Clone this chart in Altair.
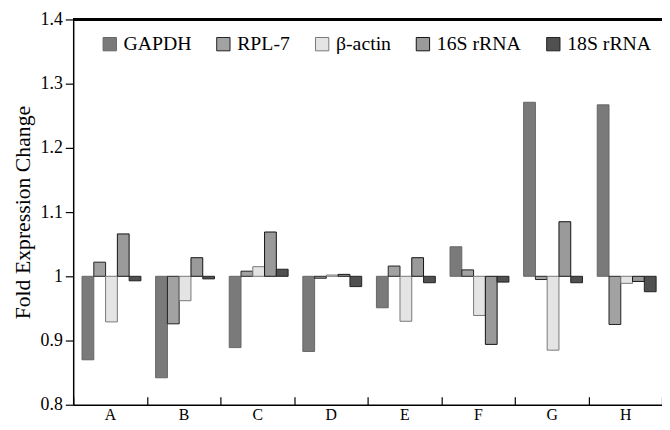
import altair as alt
import pandas as pd

categories = ["A", "B", "C", "D", "E", "F", "G", "H"]
series = ["GAPDH", "RPL-7", "β-actin", "16S rRNA", "18S rRNA"]
gapdh = [0.870, 0.842, 0.889, 0.883, 0.951, 1.046, 1.271, 1.267]
rpl7 = [1.022, 0.926, 1.008, 0.997, 1.016, 1.010, 0.995, 0.925]
bactin = [0.929, 0.962, 1.015, 1.002, 0.930, 0.939, 0.885, 0.989]
s16 = [1.066, 1.029, 1.069, 1.003, 1.029, 0.894, 1.085, 0.992]
s18 = [0.993, 0.996, 1.011, 0.984, 0.990, 0.991, 0.990, 0.976]
fills = ["#7a7a7a", "#a2a2a2", "#e4e4e4", "#9a9a9a", "#505050"]
strokes = ["#666666", "#222222", "#777777", "#111111", "#222222"]
y_ticks = [0.8, 0.9, 1.0, 1.1, 1.2, 1.3, 1.4]

rows = []
for name, vals in zip(series, [gapdh, rpl7, bactin, s16, s18]):
    for c, v in zip(categories, vals):
        rows.append({"cat": c, "series": name, "value": v})
df = pd.DataFrame(rows)

FONT = "Liberation Serif"

bars = alt.Chart(df).mark_bar(strokeWidth=1).encode(
    x=alt.X("cat:N", sort=categories, title=None,
            scale=alt.Scale(paddingInner=0, paddingOuter=0),
            axis=alt.Axis(tickBand="extent", labelAngle=0, labelFontSize=16,
                          labelFont=FONT, labelColor="black", domainColor="black",
                          tickColor="black", tickSize=alt.ExprRef("-8"),
                          labelPadding=10, domainWidth=1.5, tickWidth=1.2)),
    xOffset=alt.XOffset("series:N", sort=series,
                        scale=alt.Scale(paddingInner=0, paddingOuter=0.625, align=0.6)),
    y=alt.Y("value:Q", scale=alt.Scale(domain=[0.8, 1.4], nice=False),
            title="Fold Expression Change",
            axis=alt.Axis(values=y_ticks, grid=False,
                          labelExpr="datum.value == 1 ? '1' : format(datum.value, '.1f')",
                          labelFontSize=18, labelFont=FONT, labelColor="black",
                          titleFont=FONT, titleFontSize=22, titleFontWeight="normal",
                          titleColor="black", titlePadding=6, tickSize=8,
                          tickColor="black", domainColor="black", domainWidth=1.5,
                          labelPadding=3, tickWidth=1.2)),
    y2=alt.datum(1.0),
    fill=alt.Fill("series:N", sort=series,
                  scale=alt.Scale(domain=series, range=fills),
                  legend=alt.Legend(title=None, orient="none", direction="horizontal",
                                    legendX=27, legendY=15, symbolType="square",
                                    symbolSize=182, symbolStrokeColor="#222",
                                    symbolStrokeWidth=1, labelFont=FONT,
                                    labelFontSize=20, labelColor="black",
                                    columnPadding=22, labelOffset=4, padding=0)),
    stroke=alt.Stroke("series:N", sort=series,
                      scale=alt.Scale(domain=series, range=strokes), legend=None),
)

top_line = alt.Chart(df).mark_rule(color="black", strokeWidth=1.5).encode(
    x=alt.value(0), x2=alt.value(600), y=alt.value(0)
)

chart = alt.layer(bars, top_line).properties(
    width=596, height=390,
    autosize=alt.AutoSizeParams(type="none"),
    padding={"left": 66, "top": 9, "right": 0, "bottom": 25},
).configure_view(stroke=None).configure_legend(labelFont=FONT, labelFontSize=20)

chart.save("out.html", embed_options={"renderer": "svg", "actions": False})
